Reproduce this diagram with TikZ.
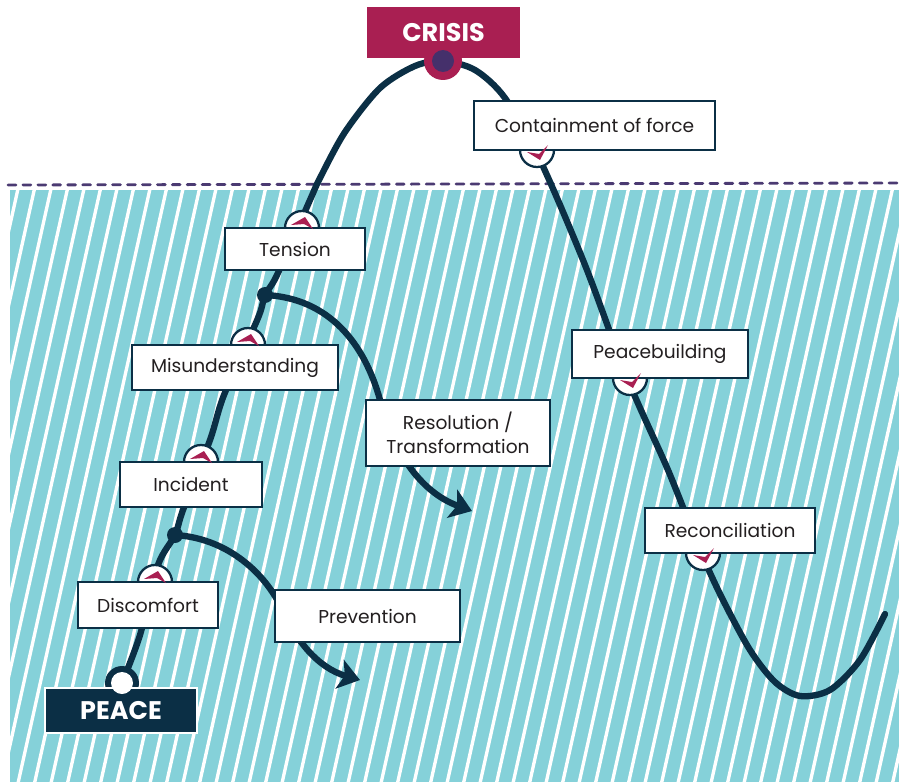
\documentclass[tikz,border=0pt]{standalone}
\usepackage{fontspec}
\setmainfont{Poppins}
\usetikzlibrary{arrows.meta}
\definecolor{teal1}{HTML}{85D1D9}
\definecolor{navy}{HTML}{0B2F45}
\definecolor{mag}{HTML}{A91F52}
\definecolor{purp}{HTML}{45306B}
\definecolor{dashc}{HTML}{4B3A72}
\definecolor{ink}{HTML}{231F20}
\begin{document}
\begin{tikzpicture}[x=0.02cm,y=-0.02cm,
  lbl/.style={draw=navy, line width=1.3pt, fill=white, text=ink, font=\fontsize{10.6}{13.5}\selectfont, inner sep=0pt, align=center},
  tabc/.style={draw=navy, line width=1.3pt, fill=white},
  curve/.style={draw=navy, line width=3.6pt, line cap=round, line join=round},
  arrowline/.style={curve, -{Stealth[length=12pt,width=17pt,inset=3pt]}},
  hatchln/.style={white, line width=1.9pt},
  bigbox/.style={inner sep=0pt, text=white, font=\bfseries\fontsize{14.5}{16}\selectfont},
  mkup/.pic={\fill[mag] (-11,-3) -- (3,-11) -- (11,1) -- (2,-4) -- cycle;},
  mkdown/.pic={\fill[mag] (-10,2) -- (3,10) -- (11,-5) -- (2,4) -- cycle;}
]
\useasboundingbox (0,0) rectangle (899,784);
% background hatching
\fill[teal1] (10,190) rectangle (899,782);
\begin{scope}
\clip (10,190) rectangle (899,782);
\foreach \i in {-10,...,57} \draw[hatchln] (\i*16.5,790) -- (\i*16.5+135,182);
\end{scope}
\draw[dashc, line width=1.6pt, line cap=round, dash pattern=on 4.5pt off 4pt] (8,185) -- (899,183);

% key points
\coordinate (peacept) at (122,683);
\coordinate (b1) at (175,535);
\coordinate (b2) at (265,295);
\coordinate (crisispt) at (443,61);
\coordinate (cend) at (885,614);
\coordinate (tDisc) at (155,582);
\coordinate (tIncid) at (201,462);
\coordinate (tMisu) at (248,345);
\coordinate (tTension) at (302,228);
\coordinate (tContain) at (537,150);
\coordinate (tPeaceb) at (630,378);
\coordinate (tRecon) at (703,553);
\coordinate (rtip) at (472,511);
\coordinate (ptip) at (360,680);

% main curve
\draw[curve] plot[smooth, tension=0.5] coordinates {(peacept) (140,635) (158,565) (b1) (183,510) (210,440) (224,395) (258,318) (b2) (277,275) (310,200) (320,178) (345,132) (380,88) (415,66) (crisispt) (475,70) (505,98) (540,160) (585,265) (628,380) (668,470) (700,550) (722,598) (750,650) (775,682) (800,696) (830,690) (860,660) (cend)};

% branches
\draw[arrowline] (b2) .. controls (330,298) and (365,345) .. (380,400) .. controls (392,450) and (420,492) .. (rtip);
\draw[arrowline] (b1) .. controls (225,538) and (262,570) .. (280,605) .. controls (295,640) and (318,668) .. (ptip);
\fill[navy] (b1) circle (8);
\fill[navy] (b2) circle (8);

% crisis
\fill[mag] (crisispt) circle (19);
\node[bigbox, fill=mag, minimum width=3.06cm, minimum height=1.02cm] (crisis) at (443.5,32.5) {CRISIS};
\fill[purp] (crisispt) circle (11);

% peace
\fill[navy] (peacept) circle (17);
\node[bigbox, fill=navy, draw=white, line width=1pt, minimum width=3.04cm, minimum height=0.9cm] (peace) at (121,710.5) {PEACE};
\fill[white] (peacept) circle (11);

% tabs
\foreach \t in {tDisc,tIncid,tMisu,tTension,tContain,tPeaceb,tRecon} \draw[tabc] (\t) circle (17);

% labels
\node[lbl, minimum width=4.82cm, minimum height=0.98cm] (contain) at (594.5,125.5) {Containment of force};
\node[lbl, minimum width=2.8cm, minimum height=0.84cm] (tension) at (295,249) {Tension};
\node[lbl, minimum width=4.12cm, minimum height=0.9cm] (misu) at (235,367.5) {Misunderstanding};
\node[lbl, minimum width=3.68cm, minimum height=1.32cm] (resol) at (458,433) {Resolution /\\Transformation};
\node[lbl, minimum width=2.84cm, minimum height=0.9cm] (incid) at (191,484.5) {Incident};
\node[lbl, minimum width=2.8cm, minimum height=0.92cm] (disc) at (148,605) {Discomfort};
\node[lbl, minimum width=3.7cm, minimum height=1.04cm] (prev) at (367.5,616) {Prevention};
\node[lbl, minimum width=3.52cm, minimum height=0.96cm] (peaceb) at (660,354) {Peacebuilding};
\node[lbl, minimum width=3.4cm, minimum height=0.9cm] (recon) at (730,530.5) {Reconciliation};

% markers
\foreach \t in {tDisc,tIncid,tMisu,tTension} \pic at (\t) {mkup};
\foreach \t in {tContain,tPeaceb,tRecon} \pic at (\t) {mkdown};
\end{tikzpicture}
\end{document}
